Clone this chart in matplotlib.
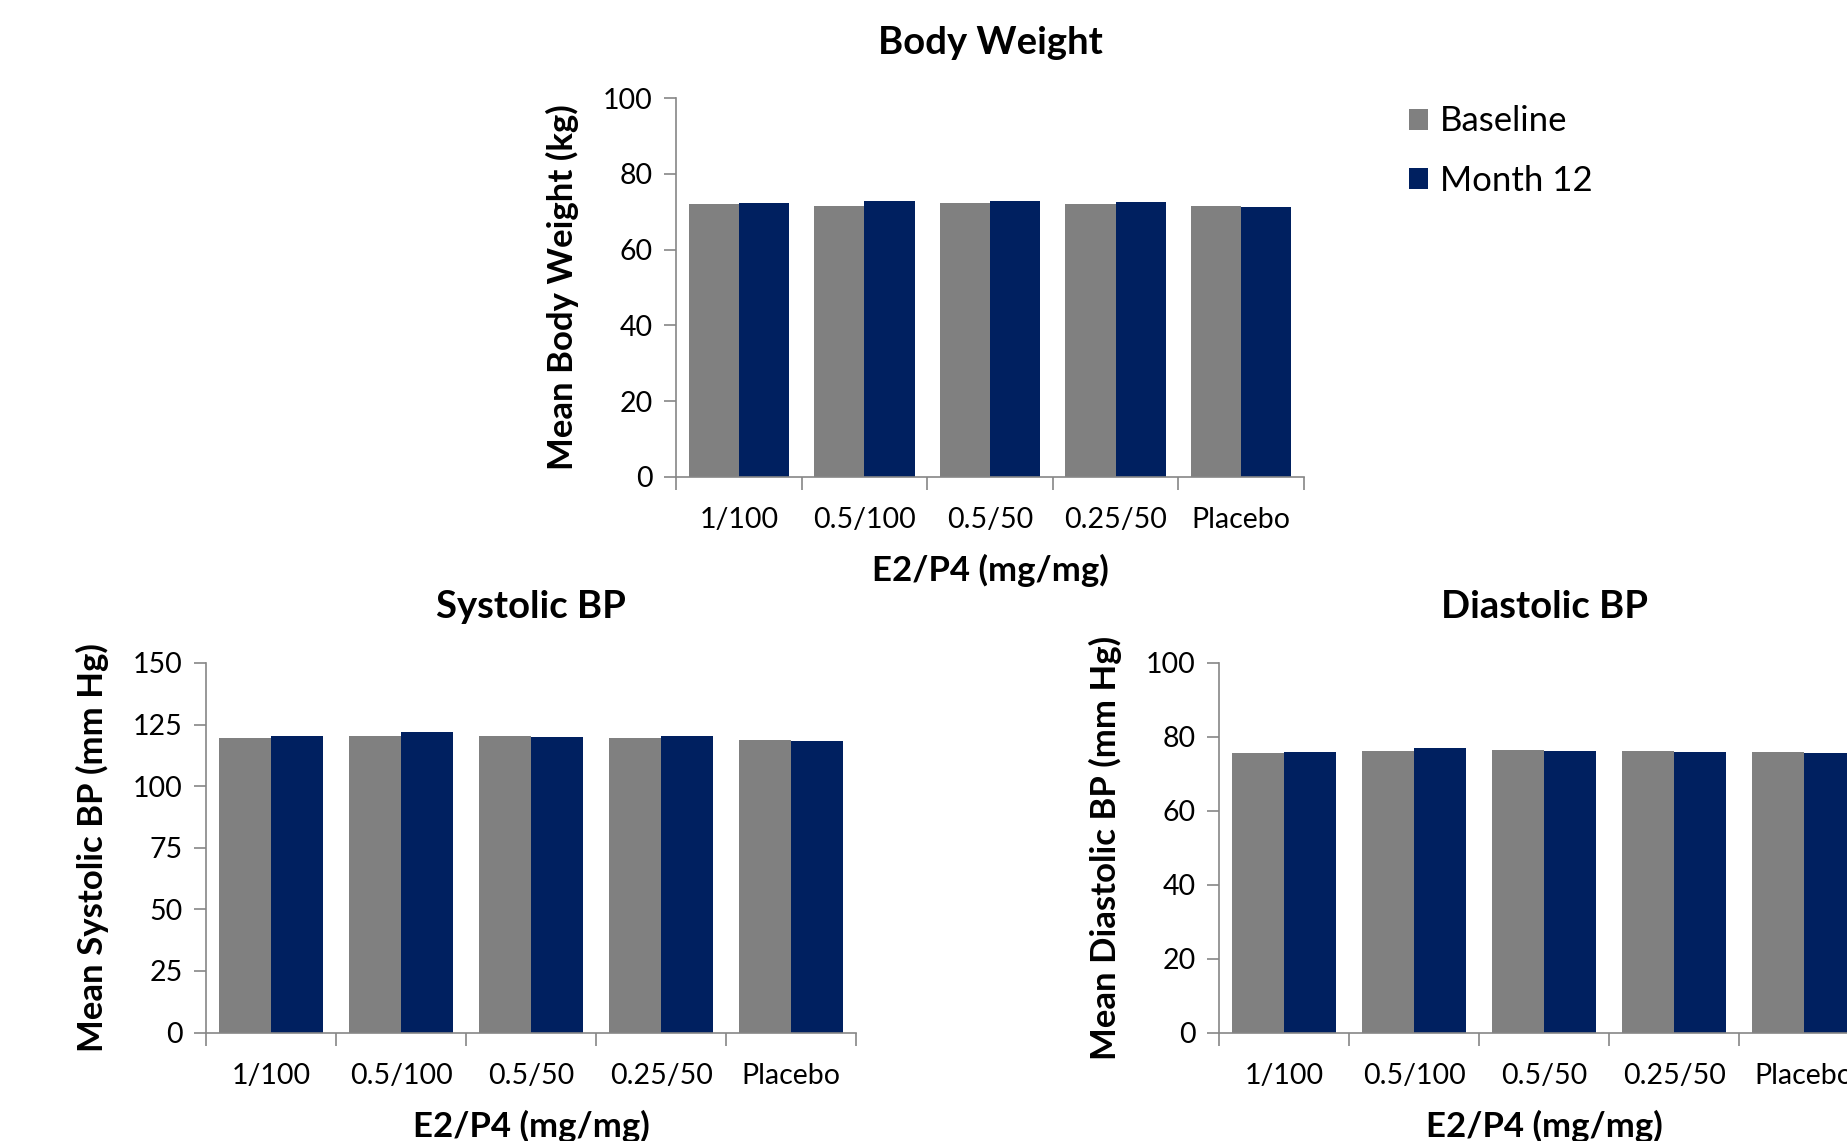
import matplotlib
matplotlib.use("Agg")
from matplotlib import pyplot as plt
import numpy as np

plt.rcParams['font.family'] = ['Lato', 'DejaVu Sans']

groups = ["1/100", "0.5/100", "0.5/50", "0.25/50", "Placebo"]
series_names = ["Baseline", "Month 12"]

weight_baseline = [72.0, 71.5, 72.2, 72.0, 71.4]
weight_month12 = [72.2, 72.8, 72.9, 72.5, 71.3]

systolic_baseline = [119.4, 120.2, 120.5, 119.5, 118.7]
systolic_month12 = [120.5, 121.8, 119.9, 120.5, 118.2]

diastolic_baseline = [75.7, 76.2, 76.4, 76.2, 76.0]
diastolic_month12 = [76.0, 76.9, 76.2, 76.0, 75.5]

GRAY = "#808080"
NAVY = "#002060"
AXIS = "#868686"


def draw_panel(ax, base, m12, title, ylabel, ymax, ystep):
    x = np.arange(len(groups))
    w = 0.4
    ax.bar(x - w / 2, base, w, color=GRAY, label=series_names[0])
    ax.bar(x + w / 2, m12, w, color=NAVY, label=series_names[1])

    ax.set_xlim(-0.5, len(groups) - 0.5)
    ax.set_ylim(0, ymax)
    ax.set_yticks(np.arange(0, ymax + 1, ystep))

    # category boundaries get tick marks, labels sit at centres
    ax.set_xticks(np.arange(len(groups) + 1) - 0.5)
    ax.set_xticklabels([])
    ax.set_xticks(x, minor=True)
    ax.set_xticklabels(groups, minor=True)
    ax.tick_params(axis='x', which='minor', length=0, pad=22, labelsize=20.5)
    ax.tick_params(axis='x', which='major', length=9, color=AXIS, width=1.2)
    ax.tick_params(axis='y', length=9, color=AXIS, width=1.2, labelsize=20.5, pad=8)

    for s in ['top', 'right']:
        ax.spines[s].set_visible(False)
    for s in ['left', 'bottom']:
        ax.spines[s].set_color(AXIS)
        ax.spines[s].set_linewidth(1.2)

    ax.set_title(title, fontsize=27.5, fontweight='bold', pad=32)
    ax.set_xlabel("E2/P4 (mg/mg)", fontsize=25, fontweight='bold', labelpad=15)
    ax.set_ylabel(ylabel, fontsize=25, fontweight='bold', labelpad=17)


fig = plt.figure(figsize=(18.47, 11.41), dpi=100)

ax_w = fig.add_axes([0.366, 0.582, 0.340, 0.332])
ax_s = fig.add_axes([0.1116, 0.095, 0.352, 0.324])
ax_d = fig.add_axes([0.660, 0.095, 0.352, 0.324])

draw_panel(ax_w, weight_baseline, weight_month12, "Body Weight",
           "Mean Body Weight (kg)", 100, 20)
draw_panel(ax_s, systolic_baseline, systolic_month12, "Systolic BP",
           "Mean Systolic BP (mm Hg)", 150, 25)
draw_panel(ax_d, diastolic_baseline, diastolic_month12, "Diastolic BP",
           "Mean Diastolic BP (mm Hg)", 100, 20)

handles, labels = ax_w.get_legend_handles_labels()
fig.legend(handles, labels, loc='upper left', bbox_to_anchor=(0.746, 0.935),
           frameon=False, fontsize=25, handlelength=0.55, handleheight=0.55,
           handletextpad=0.35, labelspacing=0.8)

fig.savefig("out.png", dpi=100)
